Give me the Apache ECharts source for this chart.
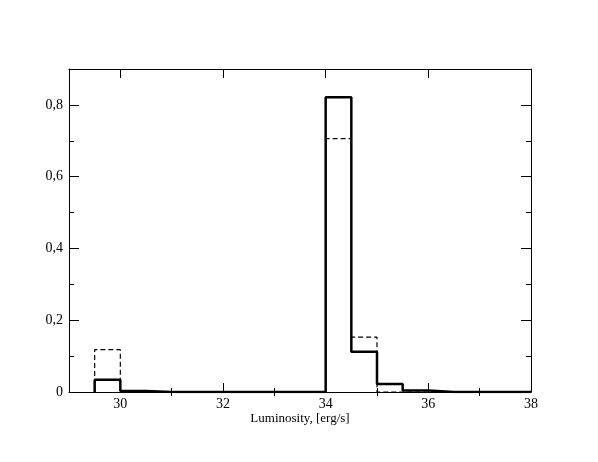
<!DOCTYPE html>
<html>
<head>
<meta charset="utf-8">
<script src="https://cdn.jsdelivr.net/npm/echarts@6/dist/echarts.min.js"></script>
<style>
  html, body { margin: 0; padding: 0; background: #fff; }
  #chart { width: 598px; height: 462px; }
</style>
</head>
<body>
<div id="chart"></div>
<script>
// left edges of the 0.5-wide luminosity bins
const binLeft = [29.5, 30, 30.5, 31, 31.5, 32, 32.5, 33, 33.5, 34, 34.5, 35, 35.5, 36, 36.5, 37, 37.5];
const binWidth = 0.5;
const solidValues = [0.034, 0.003, 0, 0, 0, 0, 0, 0, 0, 0.821, 0.112, 0.022, 0.004, 0, 0, 0, 0];
const dashedValues = [0.118, 0, 0, 0, 0, 0, 0, 0, 0, 0.706, 0.153, 0, 0, 0, 0, 0, 0];

const xMajor = [30, 32, 34, 36, 38];
const xMinor = [31, 33, 35, 37];
const yMajor = [0, 0.2, 0.4, 0.6, 0.8];
const yMinor = [0.1, 0.3, 0.5, 0.7];

function histPoints(values) {
  const pts = [[binLeft[0], 0]];
  values.forEach((v, i) => {
    pts.push([binLeft[i], v]);
    pts.push([binLeft[i] + binWidth, v]);
  });
  pts.push([binLeft[binLeft.length - 1] + binWidth, 0]);
  return pts;
}

const font = "Liberation Serif";
const black = "#000";

function xAxisDef(position, ticks, len, opts) {
  return Object.assign({
    type: "value",
    position: position,
    min: 29,
    max: 38,
    axisLine: { show: false },
    splitLine: { show: false },
    axisTick: { inside: true, length: len, customValues: ticks, lineStyle: { color: black, width: 1 } },
    axisLabel: { show: false }
  }, opts || {});
}

function yAxisDef(position, ticks, len, opts) {
  return Object.assign({
    type: "value",
    position: position,
    min: 0,
    max: 0.9,
    axisLine: { show: false },
    splitLine: { show: false },
    axisTick: { inside: true, length: len, customValues: ticks, lineStyle: { color: black, width: 1 } },
    axisLabel: { show: false }
  }, opts || {});
}

const chart = echarts.init(document.getElementById("chart"), null, { renderer: "canvas" });

chart.setOption({
  animation: false,
  backgroundColor: "#fff",
  textStyle: { fontFamily: font, color: black },
  grid: { left: 69, right: 67, top: 69, bottom: 70 },
  xAxis: [
    xAxisDef("bottom", xMajor, 9, {
      axisLine: { show: true, onZero: false, lineStyle: { color: black, width: 1 } },
      axisLabel: {
        show: true, customValues: xMajor, margin: 5,
        fontFamily: font, fontSize: 14, color: black
      },
      name: "Luminosity, [erg/s]",
      nameLocation: "middle",
      nameGap: 20,
      nameMoveOverlap: false,
      nameTextStyle: { fontFamily: font, fontSize: 13, color: black }
    }),
    xAxisDef("bottom", xMinor, 4),
    xAxisDef("top", xMajor, 9, {
      axisLine: { show: true, onZero: false, lineStyle: { color: black, width: 1 } }
    }),
    xAxisDef("top", xMinor, 4)
  ],
  yAxis: [
    yAxisDef("left", yMajor, 10, {
      axisLine: { show: true, onZero: false, lineStyle: { color: black, width: 1 } },
      axisLabel: {
        show: true, customValues: yMajor, margin: 6,
        fontFamily: font, fontSize: 14, color: black,
        formatter: v => (v === 0 ? "0" : String(v).replace(".", ","))
      }
    }),
    yAxisDef("left", yMinor, 5),
    yAxisDef("right", yMajor, 10, {
      axisLine: { show: true, onZero: false, lineStyle: { color: black, width: 1 } }
    }),
    yAxisDef("right", yMinor, 5)
  ],
  series: [
    {
      name: "dashed",
      type: "line",
      xAxisIndex: 0,
      yAxisIndex: 0,
      data: histPoints(dashedValues),
      showSymbol: false,
      lineStyle: { color: black, width: 1.2, type: [5, 3] },
      z: 2
    },
    {
      name: "solid",
      type: "line",
      xAxisIndex: 0,
      yAxisIndex: 0,
      data: histPoints(solidValues),
      showSymbol: false,
      lineStyle: { color: black, width: 2.5 },
      z: 3
    }
  ]
});
</script>
</body>
</html>
